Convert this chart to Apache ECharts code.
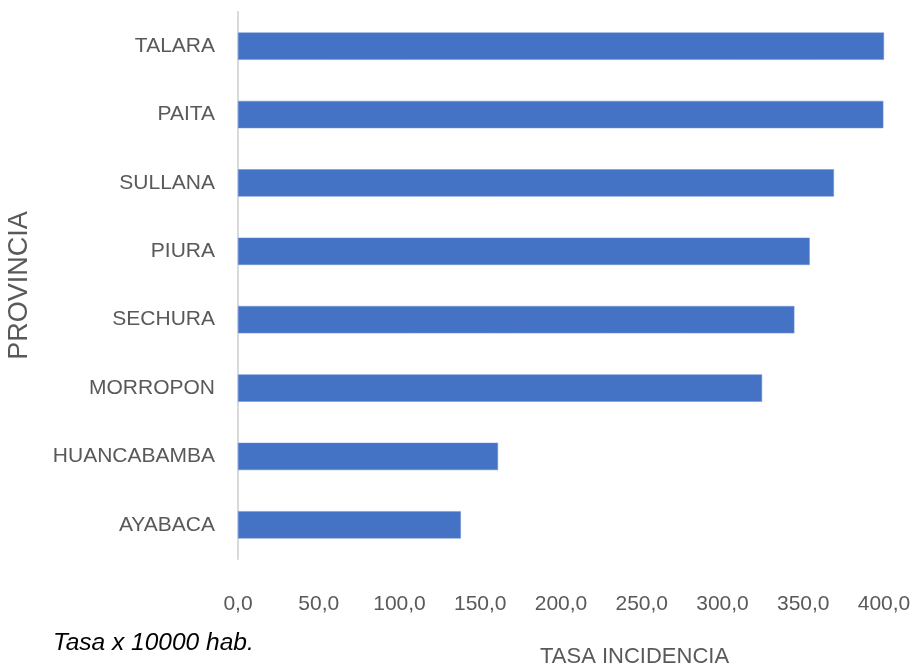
<!DOCTYPE html>
<html>
<head>
<meta charset="utf-8">
<script src="https://cdn.jsdelivr.net/npm/echarts@6/dist/echarts.min.js"></script>
<style>
html,body{margin:0;padding:0;background:#fff;}
#chart{width:914px;height:669px;}
</style>
</head>
<body>
<div id="chart"></div>
<script>
var categories = ["TALARA", "PAITA", "SULLANA", "PIURA", "SECHURA", "MORROPON", "HUANCABAMBA", "AYABACA"];
var values = [400.0, 399.6, 369.0, 354.0, 344.5, 324.5, 161.0, 138.0];
var xTickMin = 0, xTickMax = 400, xTickStep = 50;
var xAxisTitle = "TASA INCIDENCIA";
var yAxisTitle = "PROVINCIA";
var noteText = "Tasa x 10000 hab.";

var chart = echarts.init(document.getElementById('chart'), null, {renderer: 'canvas'});
var sans = "'Liberation Sans', Arial, sans-serif";
chart.setOption({
  animation: false,
  backgroundColor: '#ffffff',
  grid: {left: 238, right: 30, top: 12, bottom: 110, containLabel: false, outerBoundsMode: 'none'},
  xAxis: {
    type: 'value',
    min: xTickMin, max: xTickMax, interval: xTickStep,
    axisLine: {show: false},
    axisTick: {show: false},
    splitLine: {show: false},
    axisLabel: {
      color: '#595959', fontFamily: sans, fontSize: 21, margin: 35,
      formatter: function (v) { return v.toFixed(1).replace('.', ','); }
    }
  },
  yAxis: {
    type: 'category',
    data: categories,
    inverse: true,
    name: yAxisTitle,
    nameLocation: 'middle',
    nameRotate: 90,
    nameGap: 205,
    nameTextStyle: {color: '#595959', fontFamily: sans, fontSize: 27},
    axisLine: {show: true, lineStyle: {color: '#d9d9d9', width: 2}},
    axisTick: {show: false},
    axisLabel: {color: '#595959', fontFamily: sans, fontSize: 21, margin: 23}
  },
  series: [{
    type: 'bar',
    data: values,
    barWidth: '40%',
    itemStyle: {color: '#4472C4', borderColor: '#6f93d3', borderWidth: 0.5}
  }],
  graphic: [
    {
      type: 'text', left: 53, top: 631,
      style: {text: noteText, fill: '#000000', font: "italic 24.5px " + sans}
    },
    {
      type: 'text', left: 540, top: 646,
      style: {text: xAxisTitle, fill: '#595959', font: "22px " + sans}
    }
  ]
});
</script>
</body>
</html>
